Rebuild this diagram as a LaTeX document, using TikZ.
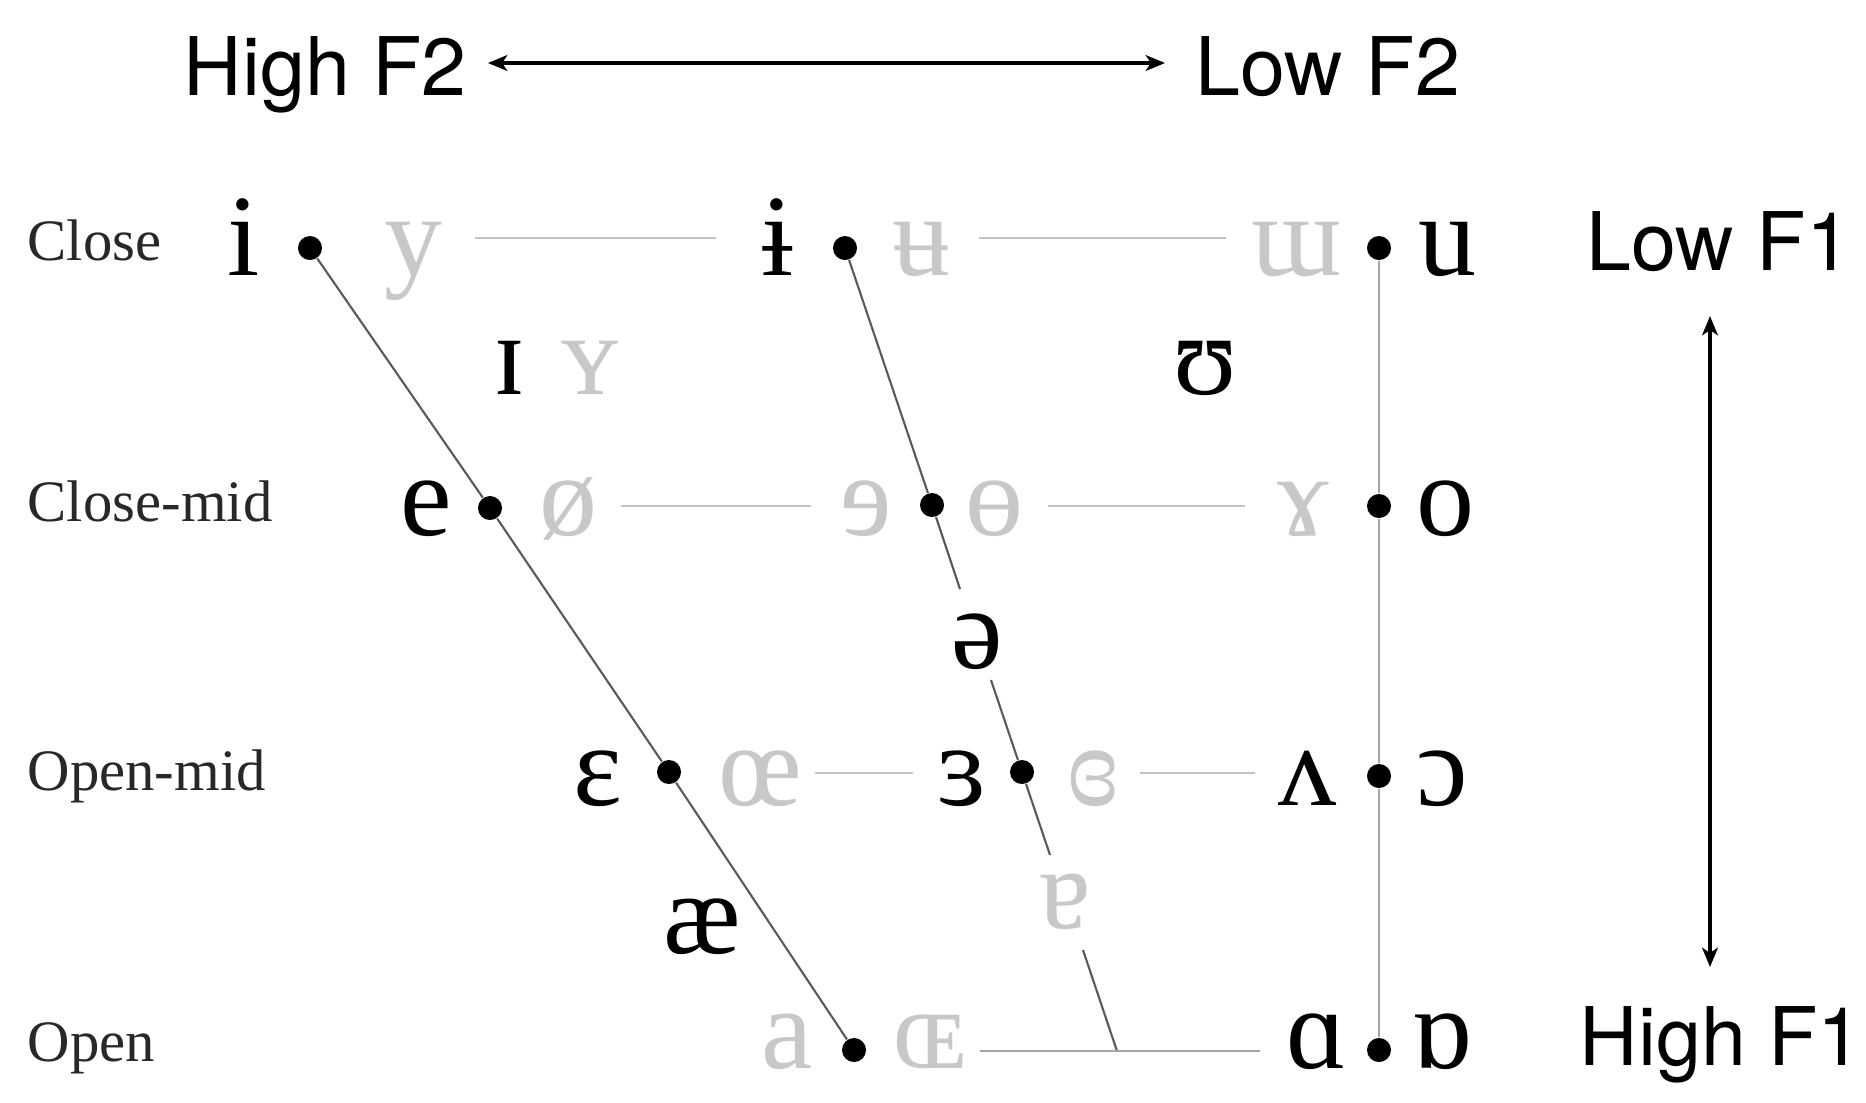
\documentclass[tikz,border=0pt]{standalone}
\usepackage{fontspec}
\usetikzlibrary{arrows.meta}
\newfontfamily\ipaf{Liberation Serif}
\newfontfamily\helvf{TeX Gyre Heros}
\definecolor{glyphgray}{RGB}{200,200,200}
\definecolor{hlinegray}{RGB}{195,195,195}
\definecolor{backgray}{RGB}{165,165,165}
\definecolor{darkline}{RGB}{90,90,90}
\definecolor{labelgray}{RGB}{40,40,40}
\tikzset{
  vdot/.style={circle, fill=black, inner sep=0pt, minimum size=0.24cm},
  vw/.style={font=\ipaf\fontsize{33}{40}\selectfont, anchor=base, inner sep=0pt},
  vb/.style={vw, text=black},
  vg/.style={vw, text=glyphgray},
  rowlab/.style={font=\ipaf\fontsize{16.7}{20}\selectfont, anchor=base west, inner sep=0pt, text=labelgray},
  axlab/.style={font=\helvf\fontsize{23}{28}\selectfont, anchor=base west, inner sep=0pt},
  axarrow/.style={line width=0.9pt, {Stealth[length=5.5pt,width=4.5pt,inset=1.5pt]}-{Stealth[length=5.5pt,width=4.5pt,inset=1.5pt]}},
  hline/.style={draw=hlinegray, line width=0.8pt},
  openline/.style={draw=backgray, line width=0.7pt},
  backline/.style={draw=backgray, line width=0.7pt},
  diagline/.style={draw=darkline, line width=0.6pt},
}
\begin{document}
\begin{tikzpicture}[x=0.01cm, y=-0.01cm]
\fill[white] (0,0) rectangle (1866,1102);
\useasboundingbox (0,0) rectangle (1866,1102);

% axis labels and arrows
\node[axlab] (hf2) at (183,95) {High F2};
\node[axlab] (lf2) at (1195,95) {Low F2};
\node[axlab] (lf1) at (1586,270) {Low F1};
\node[axlab] (hf1) at (1579,1065) {High F1};
\coordinate (f2l) at (488,63);
\coordinate (f2r) at (1165,63);
\coordinate (f1t) at (1710,316);
\coordinate (f1b) at (1710,967);
\draw[axarrow] (f2l) -- (f2r);
\draw[axarrow] (f1t) -- (f1b);

% row labels
\node[rowlab] (rclose) at (27,260) {Close};
\node[rowlab] (rcmid) at (27,521) {Close-mid};
\node[rowlab] (romid) at (27,790) {Open-mid};
\node[rowlab] (ropen) at (27,1061) {Open};

% dots
\node[vdot] (di) at (310,248) {};
\node[vdot] (de) at (490,508) {};
\node[vdot] (deps) at (669,772) {};
\node[vdot] (da) at (854,1050) {};
\node[vdot] (dcI) at (845,248) {};
\node[vdot] (dcE) at (932,505) {};
\node[vdot] (dcR) at (1022,772) {};
\node[vdot] (du) at (1379,248) {};
\node[vdot] (do) at (1379,506) {};
\node[vdot] (doo) at (1379,776) {};
\node[vdot] (dob) at (1379,1050) {};

% front line
\draw[diagline] (di) -- (de);
\draw[diagline] (de) -- (deps);
\draw[diagline] (deps) -- (da);

% central line with gaps
\coordinate (g1a) at (960,589);
\coordinate (g1b) at (991,680);
\coordinate (g2a) at (1050,855);
\coordinate (g2b) at (1083,950);
\coordinate (cbot) at (1117,1051);
\draw[diagline] (dcI) -- (dcE);
\draw[diagline] (dcE) -- (g1a);
\draw[diagline] (g1b) -- (dcR);
\draw[diagline] (dcR) -- (g2a);
\draw[diagline] (g2b) -- (cbot);

% back line
\draw[backline] (du) -- (do);
\draw[backline] (do) -- (doo);
\draw[backline] (doo) -- (dob);

% horizontal lines
\coordinate (h1a) at (475,238);  \coordinate (h1b) at (716,238);
\coordinate (h2a) at (979,238);  \coordinate (h2b) at (1226,238);
\coordinate (h3a) at (621,506);  \coordinate (h3b) at (811,506);
\coordinate (h4a) at (1048,506); \coordinate (h4b) at (1245,506);
\coordinate (h5a) at (815,773);  \coordinate (h5b) at (913,773);
\coordinate (h6a) at (1140,773); \coordinate (h6b) at (1255,773);
\coordinate (h7a) at (980,1051);
\draw[hline] (h1a) -- (h1b);
\draw[hline] (h2a) -- (h2b);
\draw[hline] (h3a) -- (h3b);
\draw[hline] (h4a) -- (h4b);
\draw[hline] (h5a) -- (h5b);
\draw[hline] (h6a) -- (h6b);
\coordinate (h7b) at (1260,1051);
\draw[openline] (h7a) -- (cbot);
\draw[openline] (cbot) -- (h7b);

% close
\node[vb] (gi) at (244,275) {i};
\node[vg] (gy) at (414,275) {y};
\node[vb] (gbi) at (778,275) {ɨ};
\node[vg] (gbu) at (922,275) {ʉ};
\node[vg] (gm) at (1297,275) {ɯ};
\node[vb] (gu) at (1447,275) {u};
% near-close
\node[vb] (gsi) at (510,394) {ɪ};
\node[vg] (gsy) at (590,394) {ʏ};
\node[vb] (gsu) at (1205,394) {ʊ};
% close-mid
\node[vb] (ge) at (426,535) {e};
\node[vg] (gslo) at (569,535) {ø};
\node[vg] (gre) at (866,535) {ɘ};
\node[vg] (gbo) at (995,535) {ɵ};
\node[vg] (gram) at (1303,535) {ɤ};
\node[vb] (go) at (1445,535) {o};
% mid
\node[vb] (gschwa) at (977,668) {ə};
% open-mid
\node[vb] (geps) at (598,805) {ɛ};
\node[vg] (goe) at (760,805) {œ};
\node[vb] (grev) at (962,805) {ɜ};
\node[vg] (gcrev) at (1093,805) {ɞ};
\node[vb] (gv) at (1308,805) {ʌ};
\node[vb] (gc) at (1442,805) {ɔ};
% near-open
\node[vb] (gae) at (702,953) {æ};
\node[vg] (gta) at (1065,928) {ɐ};
% open
\node[vg] (ga) at (787,1068) {a};
\node[vg] (gOE) at (930,1068) {ɶ};
\node[vb] (galpha) at (1317,1068) {ɑ};
\node[vb] (gtalpha) at (1442,1068) {ɒ};
\end{tikzpicture}
\end{document}
